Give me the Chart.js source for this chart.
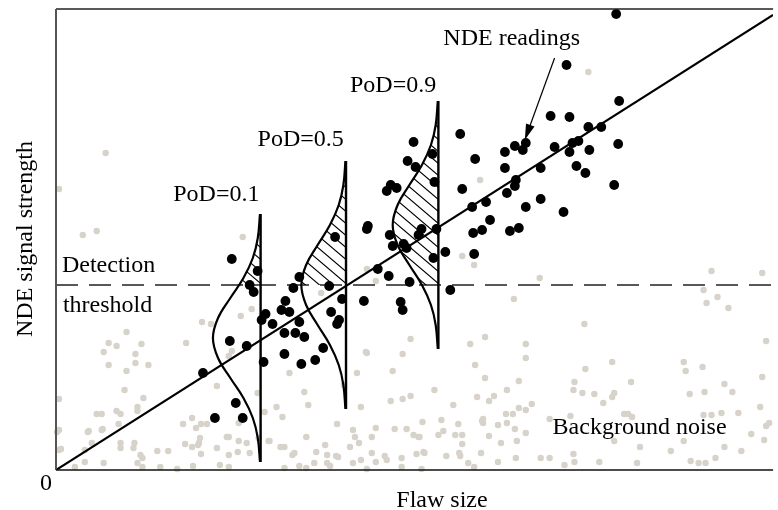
<!DOCTYPE html>
<html>
<head>
<meta charset="utf-8">
<script src="https://cdn.jsdelivr.net/npm/chart.js@4.4.0/dist/chart.umd.min.js"></script>
<style>
body{margin:0;background:#fff}
#wrap{width:778px;height:510px}
</style>
</head>
<body>
<div id="wrap"><canvas id="myChart" width="778" height="510"></canvas></div>
<script>
// axis ranges (arbitrary units: flaw size / signal strength)
const xMax = 72.2
const yMax = 46.1
const threshold = 18.5
const fitEnd = [72.2, 45.5]

// PoD distributions
const podLabels = ["PoD=0.1", "PoD=0.5", "PoD=0.9"]
const bellX = [20.6, 29.2, 38.5]
const bellCenter = [13.2, 18.5, 24.5]
const bellDepth = [4.8, 4.5, 4.6]
const bellOffset = [12.4, 10, 8, 6, 4, 2, 0, -2, -4, -6, -8, -10, -12.4]
const bellShape = [0.013, 0.059, 0.163, 0.36, 0.635, 0.893, 1, 0.893, 0.635, 0.36, 0.163, 0.059, 0.013]

// NDE readings (black dots)
const readings = [
  [17.7,21.1],[20.3,19.9],[19.5,18.5],[19.9,17.8],[21.1,15.6],[20.7,15.0],[21.8,14.6],[23.1,16.9],
  [22.7,16.0],[23.5,15.8],[23.9,18.2],[24.5,19.3],[24.5,14.8],[23.0,13.7],[24.1,13.7],[25.0,13.3],
  [17.5,12.9],[19.2,12.4],[23.0,11.6],[26.9,12.2],[26.1,11.0],[24.7,10.6],[20.9,10.8],[14.8,9.7],
  [18.1,6.7],[16.0,5.2],[18.8,5.2],[28.1,23.3],[27.5,18.4],[28.8,17.1],[27.7,15.8],[28.5,15.0],
  [28.3,14.6],[31.0,16.9],[36.0,32.8],[40.7,33.6],[37.9,31.6],[35.4,30.9],[36.2,30.3],[42.2,31.1],
  [38.1,28.8],[33.7,28.5],[34.3,28.2],[33.3,27.9],[40.9,28.1],[41.9,26.3],[31.4,24.4],[31.3,24.1],
  [36.8,24.1],[36.5,23.5],[38.3,24.1],[33.6,23.5],[42.0,23.7],[35.0,22.6],[35.3,22.2],[33.9,22.4],
  [39.2,21.8],[42.1,21.6],[38.0,21.2],[32.4,20.1],[33.5,19.4],[35.6,18.8],[39.7,18.0],[34.7,16.8],
  [34.9,16.0],[56.4,45.6],[51.4,40.5],[56.7,36.9],[49.8,35.4],[51.7,35.3],[53.6,34.3],[54.9,34.3],
  [46.2,32.4],[47.3,32.7],[47.0,32.0],[45.2,31.8],[50.2,32.3],[52.0,32.7],[52.6,32.9],[51.7,31.8],
  [53.7,32.0],[56.6,32.6],[45.2,30.2],[48.8,30.2],[52.4,30.4],[53.3,29.7],[46.3,29.0],[46.2,28.4],
  [45.4,27.7],[43.3,26.8],[47.3,26.3],[48.8,27.1],[51.1,25.8],[56.2,28.5],[43.7,25.0],[42.9,24.0],
  [45.7,23.9],[46.6,24.2]
]

// background noise (grey dots)
const noise = [
  [7.1,13.8],[5.3,12.7],[6.1,12.4],[8.6,12.6],[4.8,11.8],[8.0,11.6],[8.0,10.7],[9.3,10.5],[5.3,10.5],
  [7.1,9.9],[13.1,12.7],[17.7,11.9],[0.3,7.1],[6.9,8.0],[8.8,7.2],[4.1,5.6],[4.6,5.6],[6.1,5.9],
  [6.5,5.6],[8.2,6.3],[8.2,5.9],[6.3,4.6],[4.7,4.1],[3.3,3.9],[3.6,2.7],[6.5,2.7],[7.9,2.7],[7.8,2.2],
  [6.5,2.2],[8.5,1.5],[8.7,1.2],[8.2,0.7],[10.2,1.9],[11.3,1.9],[12.8,4.6],[13.7,5.2],[14.6,4.6],
  [15.2,4.6],[14.5,3.2],[13.0,2.6],[14.3,2.5],[14.6,1.6],[16.2,2.2],[16.5,0.5],[17.4,3.3],[17.2,3.3],
  [18.4,2.9],[19.2,2.7],[20.4,3.2],[20.3,7.7],[16.2,8.4],[17.4,1.5],[19.5,1.7],[21.4,2.9],[22.2,6.3],
  [22.8,5.3],[23.5,9.7],[25.0,7.8],[25.4,6.5],[23.0,2.3],[23.8,1.5],[25.2,3.3],[26.0,0.7],[27.1,2.5],
  [27.3,1.5],[28.3,4.6],[28.4,1.3],[29.6,2.3],[29.9,4.0],[30.5,2.7],[30.7,6.3],[31.3,11.7],[30.3,9.7],
  [29.0,8.5],[31.8,3.3],[31.8,1.7],[32.2,4.2],[33.9,9.9],[34.9,11.6],[33.7,6.9],[34.9,7.1],[35.7,7.4],
  [34.1,4.1],[35.3,4.1],[33.3,1.0],[34.8,1.2],[0.5,2.1],[0.3,4.0],
  [14.7,14.8],[15.6,14.6],[18.6,15.4],[0.1,3.8],[0.3,2.0],[1.9,0.3],[2.9,0.8],[4.8,0.7],[3.2,3.8],
  [4.6,4.0],[8.7,0.3],[12.2,0.1],[10.5,0.3],[13.8,0.4],[13.7,2.3],[14.4,2.7],[14.1,4.2],[18.3,1.8],
  [17.4,0.3],[18.4,4.7],[2.9,2.0],
  [65.5,16.7],[67.7,16.2],[53.2,14.6],[71.5,12.9],[41.7,12.6],[43.2,13.3],[47.3,12.6],[47.3,11.2],
  [42.2,10.5],[43.2,9.2],[46.6,8.9],[45.4,8.0],[44.1,7.4],[43.6,6.9],[42.4,7.3],[38.1,8.0],[40.0,6.5],
  [56.0,10.8],[53.3,10.1],[52.2,8.8],[52.1,8.0],[53.0,7.7],[54.2,7.6],[55.1,6.7],[56.0,7.3],[56.2,7.7],
  [57.9,8.8],[63.2,10.8],[63.4,9.9],[65.1,10.3],[67.3,8.6],[68.1,7.8],[63.8,7.6],[65.3,7.8],[71.1,9.3],
  [70.9,6.3],[68.7,5.7],[67.0,5.7],[66.0,5.5],[65.2,5.5],[57.2,5.6],[57.6,5.6],[58.0,5.3],[49.7,5.1],
  [51.8,5.4],[47.3,6.0],[47.9,6.6],[46.6,6.2],[46.0,5.6],[45.4,4.7],[45.3,5.6],[46.2,4.1],[44.5,4.5],
  [43.6,3.4],[43.0,5.1],[43.0,4.7],[40.5,4.6],[40.9,3.5],[40.9,2.6],[40.2,3.5],[39.0,3.9],[38.5,3.5],
  [38.8,5.0],[36.9,4.8],[36.5,3.3],[37.0,1.8],[36.3,1.6],[39.3,1.4],[40.7,1.4],[41.5,0.7],[42.1,0.3],
  [42.8,1.7],[44.5,0.8],[44.8,2.7],[46.4,2.9],[46.3,1.2],[47.3,3.7],[48.8,1.2],[49.7,1.2],[51.2,0.5],
  [52.1,1.6],[52.2,0.8],[54.7,0.8],[56.2,2.9],[58.8,2.3],[58.5,0.7],[61.9,1.9],[63.2,2.9],[63.9,0.9],
  [64.7,0.7],[65.4,0.7],[66.4,1.2],[67.3,2.3],[69.0,1.9],[70.0,3.6],[71.3,3.0],[71.5,4.4],[71.8,4.7],
  [48.7,19.2],[46.1,17.1],[66.0,19.9],[71.1,19.7],[65.2,18.0],[66.6,17.3],
  [5.0,31.7],[0.3,28.1],[2.7,23.5],[4.1,23.9],[18.8,23.3],[53.6,39.8],[42.7,29.0],[40.9,21.4],
  [42.1,20.5],[31.3,20.1],[32.2,18.9],[19.7,16.1],[17.4,11.4],[26.7,17.7],[31.2,11.8],[21.0,5.8],
  [35.7,13.1],[30.1,3.3],[36.0,3.5],[36.6,3.3],[42.9,4.9],[28.2,1.4],[27.3,0.7],[27.6,0.4],[26.2,1.8],
  [29.9,0.7],[30.7,1.0],[31.3,0.1],[32.2,0.8],[33.1,1.4],[34.8,0.3],[37.1,1.7],[36.8,0.1],[40.6,1.7],
  [23.0,0.2],[24.5,0.4],[25.2,0.2],[24.0,1.7],[22.6,2.3],[21.5,2.9]
]

// where the words sit (data units)
const notes = [
  { text: podLabels[0], x: 11.8, y: 26.9 },
  { text: podLabels[1], x: 20.3, y: 32.4 },
  { text: podLabels[2], x: 29.6, y: 37.8 },
  { text: "NDE readings", x: 39.0, y: 42.5 },
  { text: "Detection", x: 0.6, y: 19.8 },
  { text: "threshold", x: 0.7, y: 15.8 },
  { text: "Background noise", x: 50.0, y: 3.6 }
]
const arrowFrom = [50.2, 41.2]
const arrowTo = [47.2, 33.0]

const font = '24px "Liberation Serif", "DejaVu Serif", serif'

const toPts = arr => arr.map(p => ({ x: p[0], y: p[1] }))

const datasets = []
datasets.push({ data: toPts(noise), pointRadius: 3.2, backgroundColor: '#d7d2ca', borderWidth: 0, order: 7, clip: false })
datasets.push({ data: [{ x: 0, y: threshold }, { x: xMax, y: threshold }], showLine: true, borderDash: [22, 11],
  borderColor: '#222', borderWidth: 1.3, pointRadius: 0, order: 6 })
bellX.forEach((bx, i) => {
  const pts = bellOffset.map((o, k) => ({ x: bx - bellDepth[i] * bellShape[k], y: bellCenter[i] + o }))
  datasets.push({ data: pts, showLine: true, tension: 0.4, borderColor: '#000', borderWidth: 2.2,
    pointRadius: 0, order: 5, isBell: true, stem: bx })
  datasets.push({ data: [{ x: bx, y: bellCenter[i] + bellOffset[0] }, { x: bx, y: bellCenter[i] + bellOffset[bellOffset.length - 1] }],
    showLine: true, borderColor: '#000', borderWidth: 2.4, pointRadius: 0, order: 4 })
})
datasets.push({ data: [{ x: 0, y: 0 }, { x: fitEnd[0], y: fitEnd[1] }], showLine: true, borderColor: '#000',
  borderWidth: 2.2, pointRadius: 0, order: 3 })
datasets.push({ data: toPts(readings), pointRadius: 4.9, backgroundColor: '#000', borderWidth: 0, order: 1, clip: false })

// hatch the part of each bell above the threshold
const hatch = {
  id: 'hatch',
  afterDatasetDraw(chart, args) {
    const ds = chart.data.datasets[args.index]
    if (!ds.isBell) return
    const { ctx, chartArea } = chart
    const sx = chart.scales.x, sy = chart.scales.y
    const pts = args.meta.data
    const vx = sx.getPixelForValue(ds.stem)
    const ty = sy.getPixelForValue(threshold)
    ctx.save()
    ctx.beginPath()
    ctx.moveTo(pts[0].x, pts[0].y)
    for (let k = 1; k < pts.length; k++) {
      const p = pts[k - 1], q = pts[k]
      if (p.cp2x !== undefined && q.cp1x !== undefined) ctx.bezierCurveTo(p.cp2x, p.cp2y, q.cp1x, q.cp1y, q.x, q.y)
      else ctx.lineTo(q.x, q.y)
    }
    ctx.lineTo(vx, pts[pts.length - 1].y)
    ctx.lineTo(vx, pts[0].y)
    ctx.closePath()
    ctx.clip()
    ctx.beginPath()
    ctx.rect(chartArea.left, chartArea.top, chartArea.width, ty - chartArea.top)
    ctx.clip()
    ctx.beginPath()
    const left = vx - 70
    for (let c = -100; c < 520; c += 12) {
      ctx.moveTo(left, c)
      ctx.lineTo(vx + 5, c + 0.85 * 75)
    }
    ctx.strokeStyle = '#000'
    ctx.lineWidth = 1.1
    ctx.stroke()
    ctx.restore()
  }
}

const decor = {
  id: 'decor',
  afterDraw(chart) {
    const { ctx, chartArea: a } = chart
    const sx = chart.scales.x, sy = chart.scales.y
    ctx.save()
    // frame
    ctx.lineWidth = 1.6
    ctx.strokeStyle = '#222'
    ctx.beginPath(); ctx.moveTo(a.left, a.top); ctx.lineTo(a.right, a.top); ctx.stroke()
    ctx.strokeStyle = '#555'
    ctx.lineWidth = 2
    ctx.beginPath(); ctx.moveTo(a.left, a.top); ctx.lineTo(a.left, a.bottom); ctx.stroke()
    ctx.strokeStyle = '#111'
    ctx.lineWidth = 1.6
    ctx.beginPath(); ctx.moveTo(a.left, a.bottom); ctx.lineTo(a.right, a.bottom); ctx.stroke()

    ctx.fillStyle = '#000'
    ctx.font = font
    ctx.textBaseline = 'alphabetic'
    ctx.textAlign = 'left'
    notes.forEach(n => ctx.fillText(n.text, sx.getPixelForValue(n.x), sy.getPixelForValue(n.y)))

    // axis words
    ctx.fillText('0', a.left - 16, a.bottom + 20)
    ctx.textAlign = 'center'
    ctx.fillText('Flaw size', 442, a.bottom + 37)
    ctx.save()
    ctx.translate(32, 239)
    ctx.rotate(-Math.PI / 2)
    ctx.fillText('NDE signal strength', 0, 0)
    ctx.restore()

    // arrow to the readings
    const x1 = sx.getPixelForValue(arrowFrom[0]), y1 = sy.getPixelForValue(arrowFrom[1])
    const x2 = sx.getPixelForValue(arrowTo[0]), y2 = sy.getPixelForValue(arrowTo[1])
    const ang = Math.atan2(y2 - y1, x2 - x1)
    ctx.strokeStyle = '#000'
    ctx.lineWidth = 1.2
    ctx.beginPath(); ctx.moveTo(x1, y1); ctx.lineTo(x2 - 12 * Math.cos(ang), y2 - 12 * Math.sin(ang)); ctx.stroke()
    ctx.beginPath()
    ctx.moveTo(x2, y2)
    ctx.lineTo(x2 - 16 * Math.cos(ang) + 4.5 * Math.sin(ang), y2 - 16 * Math.sin(ang) - 4.5 * Math.cos(ang))
    ctx.lineTo(x2 - 16 * Math.cos(ang) - 4.5 * Math.sin(ang), y2 - 16 * Math.sin(ang) + 4.5 * Math.cos(ang))
    ctx.closePath()
    ctx.fill()
    ctx.restore()
  }
}

const ctx = document.getElementById('myChart')
const myChart = new Chart(ctx, {
  type: 'scatter',
  data: { datasets: datasets },
  options: {
    responsive: false,
    animation: false,
    events: [],
    layout: { padding: { left: 56, top: 9, right: 0, bottom: 40 } },
    plugins: { legend: { display: false }, tooltip: { enabled: false } },
    scales: {
      x: { type: 'linear', min: 0, max: xMax, display: false },
      y: { type: 'linear', min: 0, max: yMax, display: false }
    }
  },
  plugins: [hatch, decor]
})
</script>
</body>
</html>
